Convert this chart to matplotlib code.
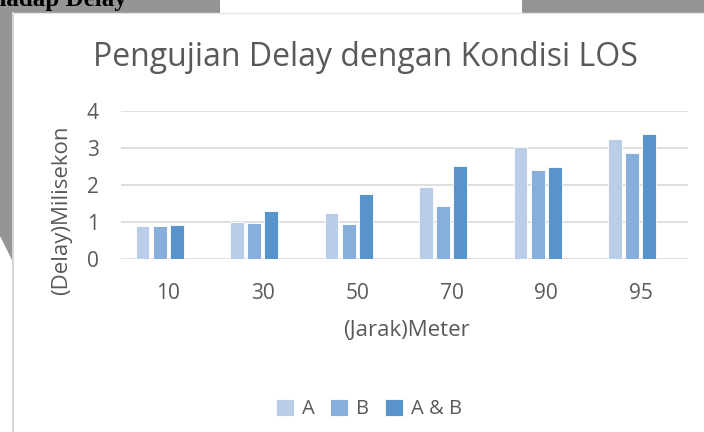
import matplotlib.pyplot as plt
import matplotlib.patches as patches
import numpy as np

jarak = ["10", "30", "50", "70", "90", "95"]
delay_a = [0.89, 1.00, 1.24, 1.95, 3.03, 3.24]
delay_b = [0.89, 0.96, 0.94, 1.43, 2.40, 2.86]
delay_ab = [0.91, 1.30, 1.76, 2.52, 2.50, 3.38]
series_names = ["A", "B", "A & B"]
colors = ["#B9CDE8", "#88AFDC", "#5893C9"]

W, H = 704, 432
plt.rcParams['font.family'] = ['Open Sans', 'DejaVu Sans']
fig = plt.figure(figsize=(W / 100, H / 100), dpi=100)

# page background (gray frame of the scanned document)
bg = fig.add_axes([0, 0, 1, 1], zorder=0)
bg.set_xlim(0, W)
bg.set_ylim(H, 0)
bg.axis('off')
gray = "#959595"
bg.add_patch(patches.Rectangle((0, 0), 220, 12.5, fc=gray, ec='none'))
bg.add_patch(patches.Rectangle((522, 0), W - 522, 12.5, fc=gray, ec='none'))
bg.add_patch(patches.Polygon([(0, 0), (12, 0), (12, 260), (0, 236)], fc=gray, ec='none'))
bg.plot([12.8, 12.8], [12.5, H], color="#d4d4d4", lw=1.5)
bg.plot([12.8, W], [13.2, 13.2], color="#e6e6e6", lw=1)
bg.text(127, 6, "Terhadap Delay", ha='right', va='baseline', fontsize=18,
        fontweight='bold', family='Liberation Serif', color='black')

ax = fig.add_axes([121 / W, 1 - 259 / H, 567 / W, 148 / H], zorder=1)
ax.patch.set_alpha(0)
x = np.arange(len(jarak))
step = 0.18
width = 0.143
for i, (vals, name, c) in enumerate(zip([delay_a, delay_b, delay_ab], series_names, colors)):
    ax.bar(x + (i - 1.5) * step, vals, width, color=c, label=name, zorder=3,
           edgecolor='white', linewidth=0.6)

ax.set_xlim(-0.5, len(jarak) - 0.5)
ax.set_ylim(0, 4)
ax.set_yticks([0, 1, 2, 3, 4])
ax.set_xticks(x)
ax.set_xticklabels(jarak)
ax.grid(axis='y', color='#d9d9d9', lw=1.2, zorder=0)
for s in ax.spines.values():
    s.set_visible(False)
ax.tick_params(length=0, labelsize=15, colors='#595959')
ax.tick_params(axis='x', pad=17)
ax.tick_params(axis='y', pad=16)

fig.text(365 / W, 1 - 58 / H, "Pengujian Delay dengan Kondisi LOS", ha='center', va='center',
         fontsize=23, color='#595959')
fig.text(62 / W, 1 - 210 / H, "(Delay)Milisekon", rotation=90, ha='center', va='center',
         fontsize=16, color='#595959')
fig.text(406 / W, 1 - 330 / H, "(Jarak)Meter", ha='center', va='center',
         fontsize=16, color='#595959')

ax.legend(loc='center', bbox_to_anchor=(369 / W, 1 - 409 / H), bbox_transform=fig.transFigure,
          ncol=3, frameon=False, fontsize=14.5, labelcolor='#595959', handlelength=0.9,
          handleheight=0.9, handletextpad=0.4, columnspacing=0.75)

fig.savefig("out.png", dpi=100)
